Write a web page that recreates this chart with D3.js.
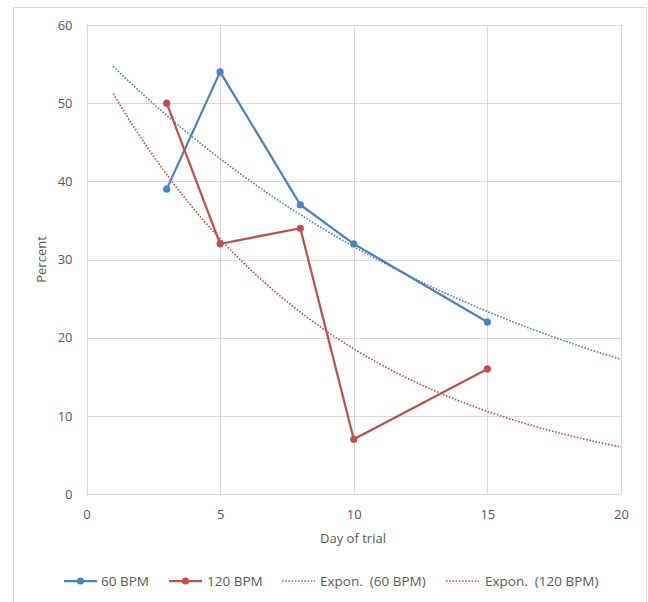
<!DOCTYPE html>
<html><head><meta charset="utf-8">
<script src="https://cdn.jsdelivr.net/npm/d3@7"></script>
<style>body{margin:0;background:#fff}text{font-family:"Open Sans","Noto Sans",sans-serif;white-space:pre;}</style>
</head><body><svg id="c" width="648" height="602"></svg>
<script>
const days = [3, 5, 8, 10, 15];
const bpm60 = [39, 54, 37, 32, 22];
const bpm120 = [50, 32, 34, 7, 16];
const xTicks = [0, 5, 10, 15, 20];
const yTicks = [0, 10, 20, 30, 40, 50, 60];
const seriesNames = ["60 BPM", "120 BPM", "Expon.  (60 BPM)", "Expon.  (120 BPM)"];
const colors = ["#4f81bd", "#c0504d"];
const trendRange = [1, 20];

const svg = d3.select("#c");
svg.append("rect").attr("x", 13.5).attr("y", 7.5).attr("width", 633).attr("height", 600)
  .attr("fill", "#fff").attr("stroke", "#d9d9d9");
const x = d3.scaleLinear().domain([0, 20]).range([86.5, 621]);
const y = d3.scaleLinear().domain([0, 60]).range([494, 25]);

// gridlines
svg.append("g").selectAll("line").data(yTicks).join("line")
  .attr("x1", x(0)).attr("x2", x(20)).attr("y1", d => Math.round(y(d)) + 0.5).attr("y2", d => Math.round(y(d)) + 0.5)
  .attr("stroke", "#d9d9d9").attr("stroke-width", 1);
svg.append("g").selectAll("line").data(xTicks).join("line")
  .attr("y1", y(0)).attr("y2", y(60)).attr("x1", d => Math.round(x(d)) + 0.5).attr("x2", d => Math.round(x(d)) + 0.5)
  .attr("stroke", "#d9d9d9").attr("stroke-width", 1);

// axes labels
const ax = svg.append("g").attr("transform", `translate(0,${y(0)})`)
  .call(d3.axisBottom(x).tickValues(xTicks).tickSize(0).tickPadding(16));
ax.select(".domain").remove();
ax.selectAll("text").attr("fill", "#595959").style("font-size", "13px");
const ay = svg.append("g").attr("transform", `translate(${x(0)},0)`)
  .call(d3.axisLeft(y).tickValues(yTicks).tickSize(0).tickPadding(14));
ay.select(".domain").remove();
ay.selectAll("text").attr("fill", "#595959").style("font-size", "13px");

svg.append("text").attr("x", 353).attr("y", 543).attr("text-anchor", "middle")
  .attr("fill", "#595959").style("font-size", "13px").text("Day of trial");
svg.append("text").attr("transform", `translate(46,${(y(0) + y(60)) / 2}) rotate(-90)`).attr("text-anchor", "middle")
  .attr("fill", "#595959").style("font-size", "13px").text("Percent");

// exponential fit
function expFit(xs, ys) {
  const ly = ys.map(Math.log);
  const mx = d3.mean(xs), my = d3.mean(ly);
  let sxy = 0, sxx = 0;
  xs.forEach((xv, i) => { sxy += (xv - mx) * (ly[i] - my); sxx += (xv - mx) ** 2; });
  const b = sxy / sxx, a = my - b * mx;
  return xv => Math.exp(a + b * xv);
}
const line = d3.line().x(d => x(d[0])).y(d => y(d[1]));
[bpm60, bpm120].forEach((vals, i) => {
  const f = expFit(days, vals);
  const pts = d3.range(trendRange[0], trendRange[1] + 0.001, 0.1).map(t => [t, f(t)]);
  svg.append("path").attr("d", line(pts)).attr("fill", "none").attr("stroke", colors[i])
    .attr("stroke-width", 1.6).attr("stroke-dasharray", "1.6 1.6");
});
[bpm60, bpm120].forEach((vals, i) => {
  const pts = days.map((d, j) => [d, vals[j]]);
  svg.append("path").attr("d", line(pts)).attr("fill", "none").attr("stroke", colors[i]).attr("stroke-width", 2.25)
    .attr("stroke-linejoin", "round");
  svg.append("g").selectAll("circle").data(pts).join("circle")
    .attr("cx", d => x(d[0])).attr("cy", d => y(d[1])).attr("r", 3.6).attr("fill", colors[i]);
});

// legend
const lg = svg.append("g");
const items = [
  {x0: 64, tx: 101, c: colors[0], dot: false, m: true},
  {x0: 169, tx: 207, c: colors[1], dot: false, m: true},
  {x0: 282, tx: 320, c: colors[0], dot: true, m: false},
  {x0: 446, tx: 485, c: colors[1], dot: true, m: false}
];
items.forEach((it, i) => {
  const ly = 581;
  lg.append("line").attr("x1", it.x0).attr("x2", it.x0 + 33).attr("y1", ly).attr("y2", ly)
    .attr("stroke", it.c).attr("stroke-width", it.dot ? 1.6 : 2.25)
    .attr("stroke-dasharray", it.dot ? "1.6 1.6" : null);
  if (it.m) lg.append("circle").attr("cx", it.x0 + 16.5).attr("cy", ly).attr("r", 3.6).attr("fill", it.c);
  lg.append("text").attr("x", it.tx).attr("y", ly + 5).attr("fill", "#595959").style("font-size", "13.5px").text(seriesNames[i]);
});
</script></body></html>
